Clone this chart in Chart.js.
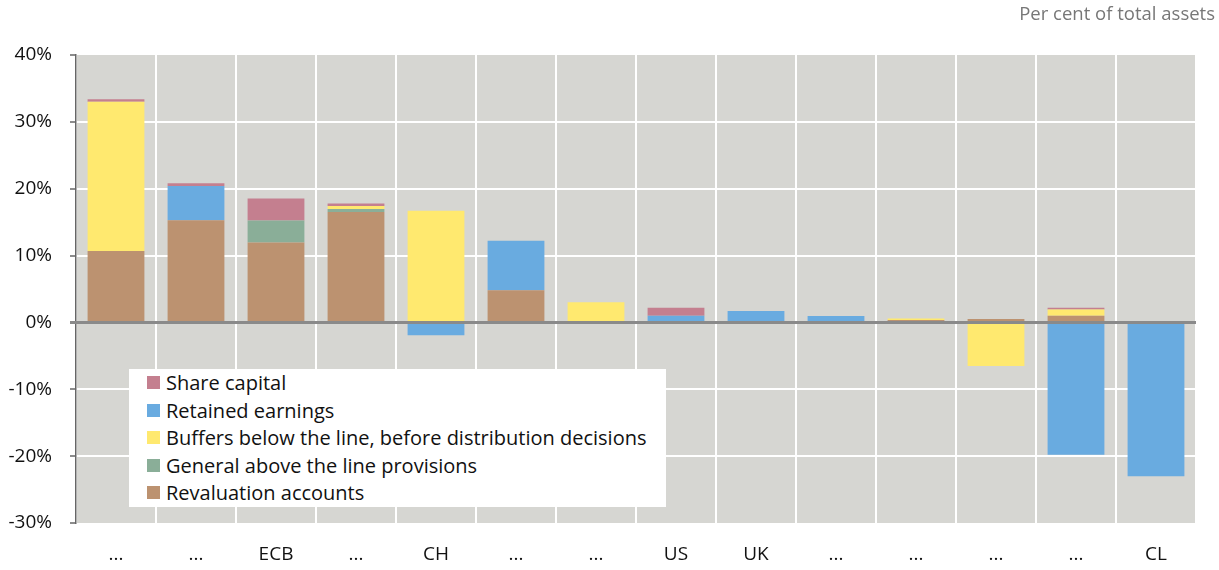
<!DOCTYPE html>
<html>
<head>
<meta charset="utf-8">
<script src="https://cdn.jsdelivr.net/npm/chart.js@4"></script>
<style>
html,body{margin:0;padding:0;background:#fff;}
#wrap{position:relative;width:1219px;height:570px;font-family:"Open Sans",sans-serif;}
#unit{position:absolute;right:4px;top:0px;font-size:18.5px;color:#777;}
#legend{position:absolute;left:129px;top:369px;width:537px;height:138px;background:#fff;box-sizing:border-box;padding:0 0 0 18px;}
.li{display:flex;align-items:center;height:27.5px;font-size:20px;color:#111;white-space:nowrap;}
.sw{width:13px;height:13px;margin-right:6px;flex:none;}
</style>
</head>
<body>
<div id="wrap">
<canvas id="c" width="1219" height="570"></canvas>
<div id="unit">Per cent of total assets</div>
<div id="legend"></div>
</div>
<script>
const categories = ["...", "...", "ECB", "...", "CH", "...", "...", "US", "UK", "...", "...", "...", "...", "CL"];
const revaluation = [10.7, 15.3, 11.95, 16.5, 0, 4.8, 0, 0, 0, 0, 0.35, 0.5, 1.0, 0];
const generalProv = [0, 0, 3.3, 0.45, 0, 0, 0, 0, 0, 0, 0, 0, 0, 0];
const buffers = [22.3, 0, 0, 0.45, 16.7, 0, 3.0, 0, 0, 0, 0.25, -6.5, 0.95, 0];
const retained = [0, 5.1, 0, 0, -1.9, 7.4, 0, 1.0, 1.7, 0.95, 0, 0, -19.8, -23.0];
const shareCapital = [0.4, 0.4, 3.3, 0.4, 0, 0, 0, 1.2, 0, 0, 0, 0, 0.25, 0];
const yTicks = [40, 30, 20, 10, 0, -10, -20, -30];

const bgPlugin = {
  id: 'bg',
  beforeDraw(chart) {
    const {ctx, chartArea: a} = chart;
    ctx.save();
    ctx.fillStyle = '#d6d6d2';
    ctx.fillRect(a.left, a.top, a.right - a.left, a.bottom - a.top);
    ctx.restore();
  },
  afterDatasetsDraw(chart) {
    const {ctx, chartArea: a, scales} = chart;
    const y0 = scales.y.getPixelForValue(0);
    ctx.save();
    ctx.strokeStyle = '#8a8a8a';
    ctx.lineWidth = 3;
    ctx.beginPath();
    ctx.moveTo(a.left - 6, y0);
    ctx.lineTo(a.right, y0);
    ctx.stroke();
    ctx.restore();
  }
};

const ds = [
  {label: 'Revaluation accounts', data: revaluation, backgroundColor: '#bc9270'},
  {label: 'General above the line provisions', data: generalProv, backgroundColor: '#8aae98'},
  {label: 'Buffers below the line, before distribution decisions', data: buffers, backgroundColor: '#ffe96f'},
  {label: 'Retained earnings', data: retained, backgroundColor: '#69abe0'},
  {label: 'Share capital', data: shareCapital, backgroundColor: '#c47f8f'}
];

const chart = new Chart(document.getElementById('c'), {
  type: 'bar',
  data: {labels: categories, datasets: ds.map(d => Object.assign({borderWidth: 0, categoryPercentage: 1, barPercentage: 0.71}, d))},
  options: {
    responsive: false,
    animation: false,
    layout: {padding: {top: 55, right: 23, left: 0, bottom: 0}},
    plugins: {legend: {display: false}, tooltip: {enabled: false}},
    scales: {
      x: {
        stacked: true,
        grid: {color: '#ffffff', lineWidth: 2, drawTicks: false, offset: true},
        border: {display: false},
        ticks: {color: '#111', font: {family: 'Open Sans', size: 19}, padding: 20, maxRotation: 0, autoSkip: false},
        afterFit(s) { s.height = 47; }
      },
      y: {
        stacked: true,
        min: -30, max: 40,
        afterBuildTicks(s) { s.ticks = yTicks.map(v => ({value: v})); },
        grid: {
          color: c => (c.tick && (c.tick.value === 40 || c.tick.value === -30 || c.tick.value === 0)) ? 'rgba(0,0,0,0)' : '#ffffff',
          lineWidth: 2, tickLength: 6, tickColor: '#666', tickWidth: 1.5
        },
        border: {display: true, color: '#666', width: 1.5},
        ticks: {color: '#111', font: {family: 'Open Sans', size: 19}, padding: 18, callback: v => v + '%'},
        afterFit(s) { s.width = 76; }
      }
    }
  },
  plugins: [bgPlugin]
});

const lg = document.getElementById('legend');
[...ds].reverse().forEach(d => {
  const row = document.createElement('div');
  row.className = 'li';
  row.innerHTML = '<span class="sw" style="background:' + d.backgroundColor + '"></span><span>' + d.label + '</span>';
  lg.appendChild(row);
});
</script>
</body>
</html>
